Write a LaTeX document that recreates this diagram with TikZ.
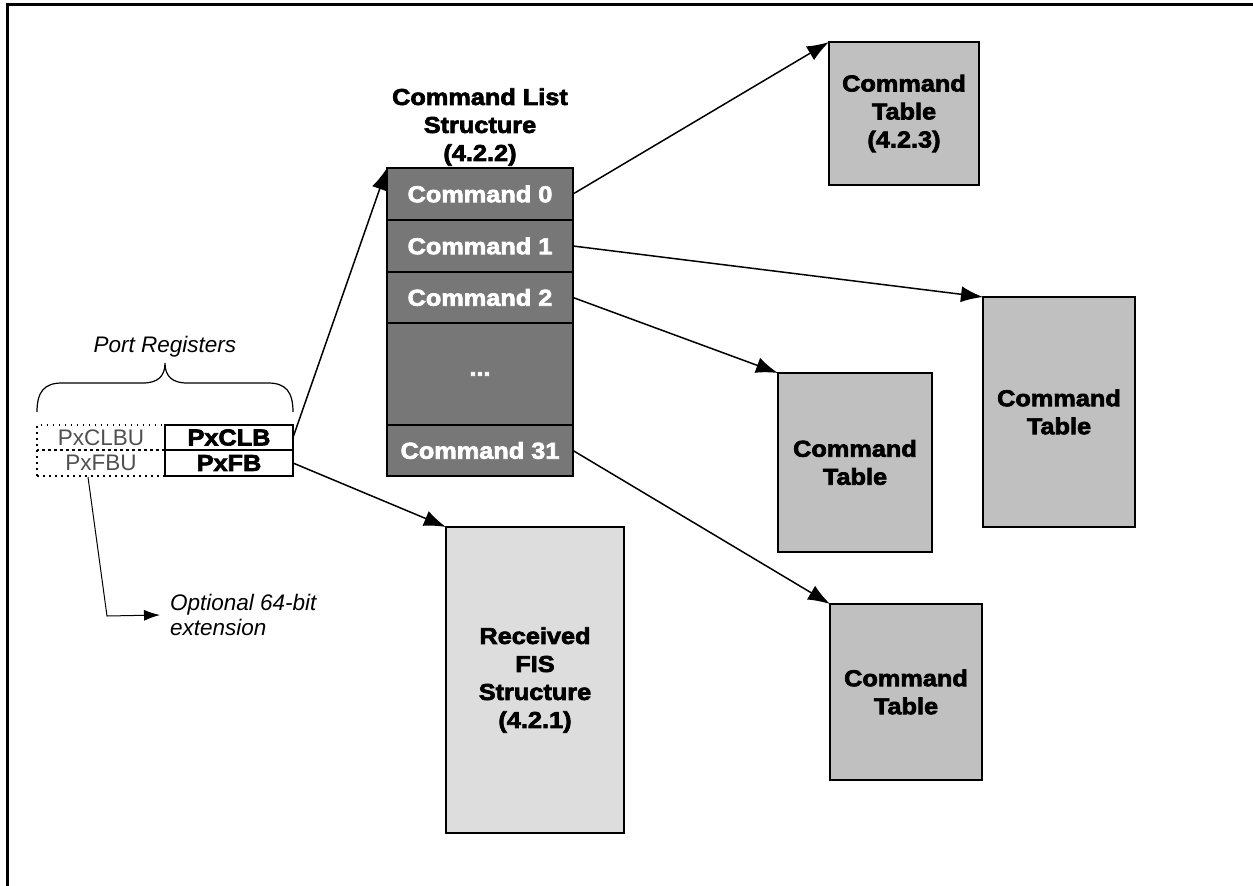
\documentclass[tikz,border=0pt]{standalone}
\usepackage{fontspec}
\setmainfont{Liberation Sans}
\newfontfamily\blkfam{Liberation Sans}[BoldFeatures={FakeBold=3,FakeStretch=1.1}]
\usetikzlibrary{arrows.meta}
\definecolor{rowgray}{RGB}{119,119,119}
\definecolor{tblgray}{RGB}{192,192,192}
\definecolor{fisgray}{RGB}{221,221,221}
\definecolor{reggray}{RGB}{80,80,80}
\newcommand\labfont{\blkfam\bfseries\fontsize{23}{28}\selectfont}
\newcommand\regfont{\fontsize{22.5}{26}\selectfont}
\newcommand\itfont{\itshape\fontsize{22.5}{25}\selectfont}
\begin{document}
\begin{tikzpicture}[x=1pt,y=-1pt,
  rowbox/.style={draw, line width=2, fill=rowgray, text=white, minimum width=186, inner sep=0, outer sep=0, font=\labfont},
  tblbox/.style={draw, line width=2, fill=tblgray, inner sep=0, outer sep=0, align=center, font=\labfont},
  fisbox/.style={draw, line width=2, fill=fisgray, inner sep=0, outer sep=0, align=center, font=\labfont},
  dotbox/.style={draw, line width=1.5, dash pattern=on 1.5pt off 4.5pt, minimum width=128, inner sep=0, outer sep=0, text=reggray, font=\regfont},
  regbox/.style={draw, line width=2, minimum width=128, inner sep=0, outer sep=0, font=\labfont},
  conn/.style={line width=1.5, -{Latex[length=22,width=16]}},
  thinconn/.style={line width=1, -{Latex[length=16,width=11]}}
]
\useasboundingbox (0,0) rectangle (1253,886);
\fill[white] (0,0) rectangle (1253,886);
% frame
\draw[line width=3] (1253,4) -- (7,4) -- (7,886);

% command list
\node[font=\labfont, align=center] (title) at (480,127) {Command List\\Structure\\(4.2.2)};
\node[rowbox, minimum height=52] (c0) at (480,194) {Command 0};
\node[rowbox, minimum height=52] (c1) at (480,246) {Command 1};
\node[rowbox, minimum height=51] (c2) at (480,297.5) {Command 2};
\node[rowbox, minimum height=102] (cd) at (480,374) {...};
\node[rowbox, minimum height=51] (c31) at (480,450.5) {Command 31};

% command tables
\node[tblbox, minimum width=150, minimum height=143] (t0) at (904,113.5) {Command\\Table\\(4.2.3)};
\node[tblbox, minimum width=152, minimum height=230] (t1) at (1059,412) {Command\\Table};
\node[tblbox, minimum width=154, minimum height=179] (t2) at (855,462.5) {Command\\Table};
\node[tblbox, minimum width=152, minimum height=176] (t3) at (906,692) {Command\\Table};

% received FIS
\node[fisbox, minimum width=178, minimum height=306] (fis) at (535,680) {Received\\FIS\\Structure\\(4.2.1)};

% registers
\node[dotbox, minimum height=25] (clbu) at (101,437.5) {PxCLBU};
\node[dotbox, minimum height=26] (fbu) at (101,463) {PxFBU};
\node[regbox, minimum height=25] (clb) at (229,437.5) {PxCLB};
\node[regbox, minimum height=26] (fb) at (229,463) {PxFB};

% brace
\draw[line width=1.2] (37,412) .. controls (37,392) and (44,383) .. (62,383) -- (143,383)
   .. controls (158,383) and (165,376) .. (165,363)
   .. controls (165,376) and (172,383) .. (187,383) -- (268,383)
   .. controls (286,383) and (293,392) .. (293,412);
\node[font=\itfont] (portlbl) at (165,347) {Port Registers};

% optional extension
\coordinate (extstart) at (88,477);
\coordinate (extbend) at (107,616);
\node[font=\itfont, align=left, anchor=west, inner sep=0] (extlbl) at (170,615) {Optional 64-bit\\extension};
\draw[thinconn] (extstart) -- (extbend) -- (extlbl.west -| 160,0);

% connectors
\draw[conn] (clb.east) -- (c0.north west);
\draw[conn] (fb.east) -- (fis.north west);
\draw[conn] (c0.east) -- (t0.north west);
\draw[conn] (c1.east) -- (t1.north west);
\draw[conn] (c2.east) -- (t2.north west);
\draw[conn] (c31.east) -- (t3.north west);
\end{tikzpicture}
\end{document}
